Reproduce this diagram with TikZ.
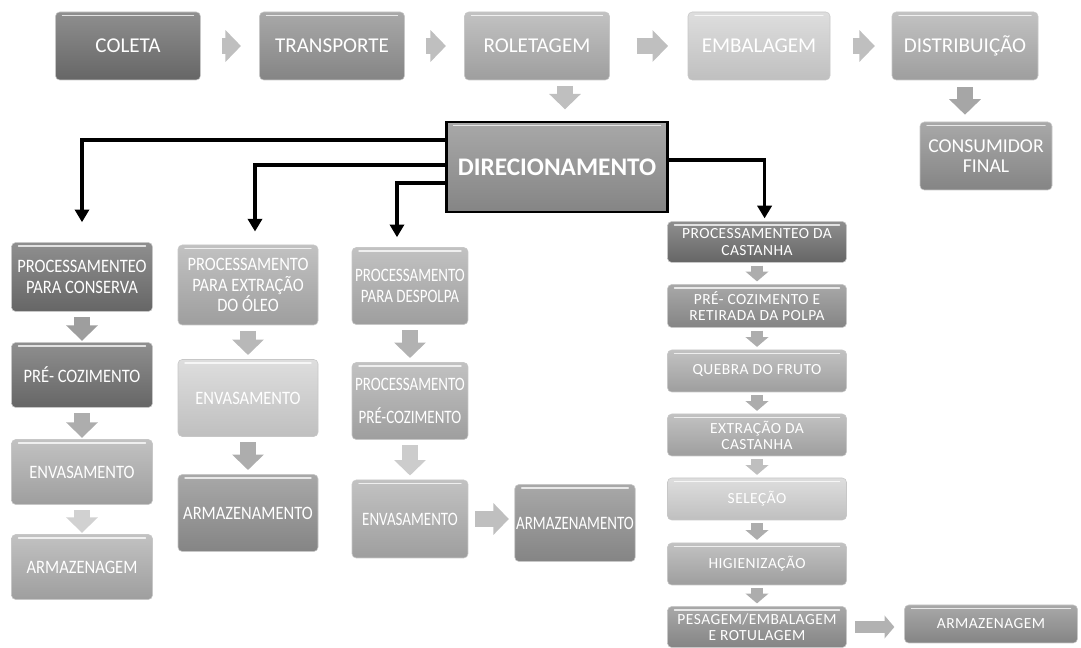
\documentclass[tikz,border=0pt]{standalone}
\usepackage{fontspec}
\setmainfont{Carlito}
\newfontfamily\estreita[FakeStretch=0.87]{Carlito}
\newfontfamily\maisestreita[FakeStretch=0.79]{Carlito}
\newfontfamily\espacada[LetterSpace=3]{Carlito}
\usetikzlibrary{arrows.meta}

\tikzset{
  caixa/.style={rounded corners=3pt, draw=black!22, text=white, align=center, inner sep=1pt,
    path picture={\draw[white, opacity=.75, line width=1.1pt, line cap=round]
      ([xshift=5pt,yshift=-2.4pt]path picture bounding box.north west) --
      ([xshift=-5pt,yshift=-2.4pt]path picture bounding box.north east);}},
  tam/.style 2 args={minimum width=#1*0.025cm, minimum height=#2*0.025cm},
  escura/.style={caixa, top color=black!44, bottom color=black!60},
  media/.style={caixa, top color=black!34, bottom color=black!48},
  clara/.style={caixa, top color=black!24, bottom color=black!38},
  palida/.style={caixa, top color=black!13, bottom color=black!25},
  topo/.style={font=\fontsize{15}{18}\selectfont},
  coluna/.style={font=\estreita\fontsize{13.5}{14.5}\selectfont},
  despolpa/.style={font=\maisestreita\fontsize{13.5}{14.5}\selectfont},
  miuda/.style={font=\espacada\fontsize{11}{11.5}\selectfont},
  seta/.style={line width=12pt, draw=#1, -{Triangle[length=11pt,width=22pt]}},
  seta/.default=black!32,
  setinha/.style={line width=8pt, draw=#1, -{Triangle[length=7pt,width=16pt]}},
  setinha/.default=black!32,
  fio/.style={line width=2.6pt, -{Triangle[length=9pt,width=10pt]}},
}

\begin{document}
\begin{tikzpicture}[x=0.025cm, y=-0.025cm]
  \useasboundingbox (0,0) rectangle (1081,648);

  % cadeia principal
  \node[escura, topo, tam={145}{68}] (coleta) at (128,46) {COLETA};
  \node[media, topo, tam={145}{68}] (transp) at (332,46) {TRANSPORTE};
  \node[clara, topo, tam={145}{68}] (rolet) at (537,46) {ROLETAGEM};
  \node[palida, topo, tam={142}{68}] (embal) at (759,46) {EMBALAGEM};
  \node[clara, topo, tam={146}{68}] (distr) at (965,46) {DISTRIBUIÇÃO};
  \node[media, font=\fontsize{14}{14}\selectfont, tam={132}{68}] (consum) at (986,156) {CONSUMIDOR\\FINAL};
  \node[caixa, rounded corners=0pt, draw=black, line width=2pt, top color=black!34, bottom color=black!48,
        font=\bfseries\fontsize{18}{20}\selectfont, tam={221}{90}] (dir) at (557,167) {DIRECIONAMENTO};

  \draw[seta=black!25, shorten <=15pt, shorten >=13pt] (coleta.east) -- (transp.west);
  \draw[seta=black!25, shorten <=15pt, shorten >=13pt] (transp.east) -- (rolet.west);
  \draw[seta=black!25, shorten <=19pt, shorten >=14pt] (rolet.east) -- (embal.west);
  \draw[seta=black!25, shorten <=16pt, shorten >=12pt] (embal.east) -- (distr.west);
  \draw[seta=black!25, shorten <=4pt, shorten >=8pt] ([xshift=0.2cm]dir.north |- rolet.south) -- ([xshift=0.2cm]dir.north);
  \draw[seta=black!35, shorten <=5pt, shorten >=5pt] (distr.south) -- (distr.south |- consum.north);

  % conserva
  \node[escura, coluna, tam={141}{69}] (conserva) at (82,277) {PROCESSAMENTEO\\PARA CONSERVA};
  \node[escura, coluna, tam={141}{65}] (precoz1) at (82,375) {PRÉ- COZIMENTO};
  \node[clara, coluna, tam={141}{65}] (envas1) at (82,472) {ENVASAMENTO};
  \node[clara, coluna, tam={141}{65}] (armaz1) at (82,567) {ARMAZENAGEM};
  \draw[seta=black!38, shorten <=4pt, shorten >=1pt] (conserva) -- (precoz1);
  \draw[seta=black!32, shorten <=4pt, shorten >=1pt] (precoz1) -- (envas1);
  \draw[seta=black!18, shorten <=4pt, shorten >=1pt] (envas1) -- (armaz1);

  % oleo
  \node[clara, coluna, tam={140}{80}] (oleo) at (248,285) {PROCESSAMENTO\\PARA EXTRAÇÃO\\DO ÓLEO};
  \node[palida, coluna, tam={140}{77}] (envas2) at (248,398) {ENVASAMENTO};
  \node[media, coluna, tam={140}{77}] (armaz2) at (248,513) {ARMAZENAMENTO};
  \draw[seta=black!28, shorten <=4pt, shorten >=3pt] (oleo) -- (envas2);
  \draw[seta=black!32, shorten <=4pt, shorten >=3pt] (envas2) -- (armaz2);

  % despolpa
  \node[clara, despolpa, tam={116}{77}] (despolpa) at (410,286) {PROCESSAMENTO\\PARA DESPOLPA};
  \node[clara, despolpa, font=\maisestreita\fontsize{13.5}{24}\selectfont, tam={116}{77}] (precoz3) at (410,401) {PROCESSAMENTO\\PRÉ-COZIMENTO};
  \node[clara, despolpa, tam={116}{78}] (envas3) at (410,519) {ENVASAMENTO};
  \node[media, despolpa, tam={120}{77}] (armaz3) at (575,523) {ARMAZENAMENTO};
  \draw[seta=black!30, shorten <=4pt, shorten >=3pt] (despolpa) -- (precoz3);
  \draw[seta=black!20, shorten <=4pt, shorten >=3pt] (precoz3) -- (envas3);
  \draw[seta=black!25, shorten <=5pt, shorten >=4pt] (envas3.east) -- (envas3.east -| armaz3.west);

  % castanha
  \node[escura, miuda, tam={179}{41}] (castanha) at (757,242) {PROCESSAMENTEO DA\\CASTANHA};
  \node[media, miuda, tam={179}{43}] (retirada) at (757,306) {PRÉ- COZIMENTO E\\RETIRADA DA POLPA};
  \node[clara, miuda, tam={179}{42}] (quebra) at (757,371) {QUEBRA DO FRUTO};
  \node[clara, miuda, tam={179}{42}] (extracao) at (757,435) {EXTRAÇÃO DA\\CASTANHA};
  \node[palida, miuda, tam={179}{42}] (selecao) at (757,499) {SELEÇÃO};
  \node[clara, miuda, tam={179}{42}] (higien) at (757,564) {HIGIENIZAÇÃO};
  \node[media, miuda, tam={179}{41}] (pesagem) at (757,627) {PESAGEM/EMBALAGEM\\E ROTULAGEM};
  \node[media, miuda, tam={173}{38}] (armaz4) at (991,624) {ARMAZENAGEM};
  \draw[setinha, shorten <=2pt, shorten >=2pt] (castanha) -- (retirada);
  \draw[setinha, shorten <=2pt, shorten >=2pt] (retirada) -- (quebra);
  \draw[setinha, shorten <=2pt, shorten >=2pt] (quebra) -- (extracao);
  \draw[setinha=black!25, shorten <=2pt, shorten >=2pt] (extracao) -- (selecao);
  \draw[setinha, shorten <=2pt, shorten >=2pt] (selecao) -- (higien);
  \draw[setinha, shorten <=2pt, shorten >=2pt] (higien) -- (pesagem);
  \draw[setinha=black!30, shorten <=6pt, shorten >=7pt] (pesagem.east) -- (pesagem.east -| armaz4.west);

  % direcionamento
  \draw[fio, shorten >=0.5cm] ([yshift=0.675cm]dir.west) -| (conserva.north);
  \draw[fio, shorten >=0.33cm] ([yshift=0.05cm]dir.west) -| ([xshift=0.175cm]oleo.north);
  \draw[fio, shorten >=0.25cm] ([yshift=-0.4cm]dir.west) -| ([xshift=-0.325cm]despolpa.north);
  \draw[fio, shorten >=2pt] ([yshift=0.175cm]dir.east) -| ([xshift=0.19cm]castanha.north);
\end{tikzpicture}
\end{document}
